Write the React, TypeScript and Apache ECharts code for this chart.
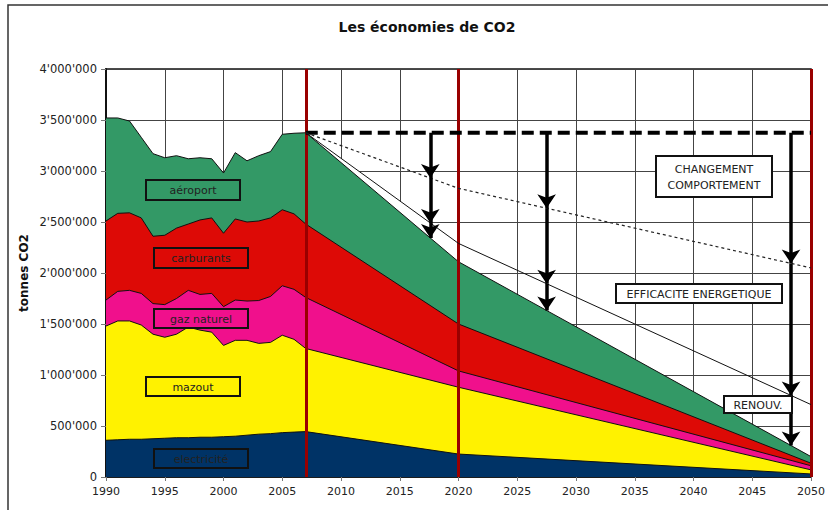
import React, { useEffect, useRef } from 'react';
import * as echarts from 'echarts';

// ---- data (tonnes CO2) ----
const years = [1990, 1991, 1992, 1993, 1994, 1995, 1996, 1997, 1998, 1999, 2000, 2001, 2002, 2003, 2004, 2005, 2006, 2007, 2020, 2050];
const electricite = [360000, 365000, 370000, 370000, 375000, 380000, 385000, 385000, 390000, 390000, 395000, 400000, 410000, 420000, 425000, 435000, 440000, 445000, 225000, 30000];
const mazout = [1120000, 1165000, 1160000, 1120000, 1025000, 990000, 1015000, 1085000, 1050000, 1030000, 895000, 940000, 930000, 890000, 895000, 955000, 910000, 815000, 655000, 40000];
const gazNaturel = [255000, 290000, 300000, 310000, 300000, 320000, 350000, 360000, 350000, 380000, 380000, 395000, 385000, 420000, 450000, 485000, 490000, 500000, 160000, 40000];
const carburants = [775000, 765000, 760000, 740000, 660000, 680000, 690000, 650000, 730000, 740000, 720000, 795000, 775000, 780000, 770000, 745000, 740000, 720000, 460000, 25000];
const aeroport = [1010000, 935000, 900000, 790000, 810000, 760000, 710000, 640000, 610000, 580000, 590000, 650000, 600000, 640000, 650000, 740000, 790000, 895000, 610000, 65000];

const scenarioYears = [2007, 2020, 2050];
const tendance = [3375000, 3375000, 3375000];
const comportement = [3375000, 2830000, 2050000];
const efficacite = [3375000, 2290000, 710000];

const milestoneYears = [2007, 2020, 2050];
const arrowYears = [2017.6, 2027.5, 2048.3];

const layerNames = ['electricité', 'mazout', 'gaz naturel', 'carburants', 'aéroport'];
const layerColors = ['#003366', '#FFF200', '#F0108C', '#DD0A06', '#339966'];
const layers = [electricite, mazout, gazNaturel, carburants, aeroport];

const FONT = 'DejaVu Sans, Verdana, sans-serif';

function interp(xs: number[], ys: number[], x: number) {
  for (let i = 0; i < xs.length - 1; i++) {
    if (x >= xs[i] && x <= xs[i + 1]) {
      const t = (x - xs[i]) / (xs[i + 1] - xs[i]);
      return ys[i] + t * (ys[i + 1] - ys[i]);
    }
  }
  return ys[ys.length - 1];
}

function fmt(v: number) {
  return String(v).replace(/\B(?=(\d{3})+(?!\d))/g, "'");
}

export default function App() {
  const ref = useRef<HTMLDivElement>(null);
  useEffect(() => {
    if (!ref.current) return;
    const chart = echarts.init(ref.current, undefined, { renderer: 'svg' });

    // cumulative tops of each layer (stacked)
    const tops: number[][] = [];
    layers.forEach((l, k) => {
      tops.push(l.map((v, i) => v + (k > 0 ? tops[k - 1][i] : 0)));
    });
    const totals = tops[tops.length - 1];

    const arrowData: any[] = [];
    arrowYears.forEach((ay) => {
      const a = interp(scenarioYears, tendance, ay);
      const b = interp(scenarioYears, comportement, ay);
      const c = interp(scenarioYears, efficacite, ay);
      const d = interp(years, totals, ay);
      arrowData.push({ coords: [[ay, a], [ay, b]] });
      arrowData.push({ coords: [[ay, b], [ay, c]] });
      arrowData.push({ coords: [[ay, c], [ay, d]] });
    });

    const boxes = [
      { text: 'aéroport', x: 146, y: 180, w: 94, h: 20, fill: layerColors[4] },
      { text: 'carburants', x: 154, y: 248, w: 94, h: 20, fill: layerColors[3] },
      { text: 'gaz naturel', x: 154, y: 309, w: 94, h: 19, fill: layerColors[2] },
      { text: 'mazout', x: 146, y: 377, w: 94, h: 19, fill: layerColors[1] },
      { text: 'electricité', x: 154, y: 449, w: 94, h: 19, fill: layerColors[0] },
      { text: 'CHANGEMENT\nCOMPORTEMENT', x: 656, y: 156, w: 116, h: 41, fill: '#fff' },
      { text: 'EFFICACITE ENERGETIQUE', x: 616, y: 284, w: 166, h: 19, fill: '#fff' },
      { text: 'RENOUV.', x: 724, y: 396, w: 68, h: 17, fill: '#fff' },
    ];
    const graphics: any[] = [
      { type: 'rect', shape: { x: 8, y: 5, width: 1000, height: 1000 }, style: { fill: 'none', stroke: '#333', lineWidth: 1.5 }, z: 0, silent: true },
      {
        type: 'text', x: 427, y: 27, z: 100,
        style: { text: 'Les économies de CO2', fill: '#111', font: `bold 14px ${FONT}`, align: 'center', verticalAlign: 'middle' },
      },
    ];
    boxes.forEach((b) => {
      graphics.push({ type: 'rect', z: 100, shape: { x: b.x, y: b.y, width: b.w, height: b.h }, style: { fill: b.fill, stroke: '#111', lineWidth: 2 } });
      graphics.push({
        type: 'text', z: 101, x: b.x + b.w / 2, y: b.y + b.h / 2 + 0.5,
        style: { text: b.text, fill: '#222', font: `11px ${FONT}`, align: 'center', verticalAlign: 'middle', lineHeight: 16 },
      });
    });

    const layerSeries: any[] = [];
    for (let k = layers.length - 1; k >= 0; k--) {
      layerSeries.push({
        type: 'line', name: layerNames[k],
        data: years.map((y, i) => [y, tops[k][i]]),
        showSymbol: false, symbol: 'none',
        lineStyle: { color: '#111', width: 1 },
        areaStyle: { color: layerColors[k], opacity: 1, origin: 'start' },
        z: 3,
      });
    }

    const series: any[] = [
      {
        type: 'line', name: 'fond', data: scenarioYears.slice(0, 2).map((y, i) => [y, efficacite[i]]),
        showSymbol: false, symbol: 'none', lineStyle: { width: 0, opacity: 0 }, areaStyle: { color: '#fff', opacity: 1, origin: 'start' }, silent: true, z: 2,
      },
      ...layerSeries,
      {
        type: 'line', name: 'tendance', data: scenarioYears.map((y, i) => [y, tendance[i]]),
        showSymbol: false, symbol: 'none', lineStyle: { color: '#000', width: 4, type: [12, 6] }, z: 5,
      },
      {
        type: 'line', name: 'comportement', data: scenarioYears.map((y, i) => [y, comportement[i]]),
        showSymbol: false, symbol: 'none', lineStyle: { color: '#222', width: 1.2, type: [3, 3] }, z: 5,
      },
      {
        type: 'line', name: 'efficacite', data: scenarioYears.map((y, i) => [y, efficacite[i]]),
        showSymbol: false, symbol: 'none', lineStyle: { color: '#111', width: 1 }, z: 5,
      },
      {
        type: 'lines', coordinateSystem: 'cartesian2d', data: arrowData,
        symbol: ['none', 'arrow'], symbolSize: [11, 14],
        lineStyle: { color: '#000', width: 3.5, opacity: 1 }, z: 6,
      },
      {
        type: 'line', name: 'jalons', data: [], z: 7,
        markLine: {
          silent: true, symbol: ['none', 'none'], label: { show: false },
          lineStyle: { color: '#990000', width: 3, type: 'solid' },
          data: milestoneYears.map((y) => ({ xAxis: y })),
        },
      },
    ];

    chart.setOption({
      animation: false,
      backgroundColor: '#fff',
      grid: { left: 106, right: 12, top: 69, bottom: 33, show: true, borderColor: '#111', borderWidth: 1.5 },
      xAxis: {
        type: 'value', min: 1990, max: 2050, interval: 5,
        axisLine: { show: true, lineStyle: { color: '#111', width: 1.5 } },
        axisTick: { show: true, length: 4, lineStyle: { color: '#777' } },
        axisLabel: { color: '#222', fontFamily: FONT, fontSize: 11, margin: 9, formatter: (v: number) => String(v) },
        splitLine: { show: true, lineStyle: { color: '#444', width: 1 } },
      },
      yAxis: {
        type: 'value', min: 0, max: 4000000, interval: 500000,
        name: 'tonnes CO2', nameLocation: 'middle', nameGap: 76, nameRotate: 90, nameMoveOverlap: false,
        nameTextStyle: { color: '#111', fontFamily: FONT, fontSize: 12, fontWeight: 'bold' },
        axisLine: { show: true, lineStyle: { color: '#111', width: 2 } },
        axisTick: { show: true, length: 5, lineStyle: { color: '#777' } },
        axisLabel: { color: '#222', fontFamily: FONT, fontSize: 11.5, margin: 9, formatter: fmt },
        splitLine: { show: true, lineStyle: { color: '#444', width: 1 } },
      },
      graphic: graphics,
      series,
    });
    return () => chart.dispose();
  }, []);
  return <div ref={ref} style={{ position: 'absolute', left: 0, top: 0, width: 828, height: 510 }} />;
}
